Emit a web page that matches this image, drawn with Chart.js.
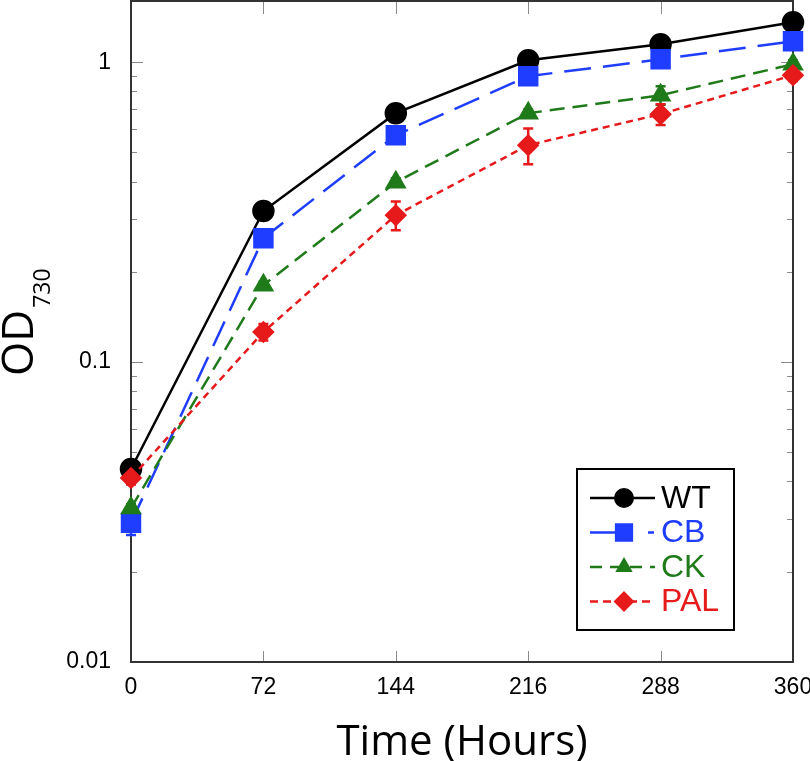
<!DOCTYPE html>
<html>
<head>
<meta charset="utf-8">
<script src="https://cdn.jsdelivr.net/npm/chart.js@4/dist/chart.umd.min.js"></script>
<style>
  body { margin: 0; background: #fff; }
  #wrap { width: 810px; height: 761px; }
</style>
</head>
<body>
<div id="wrap"><canvas id="myChart" width="810" height="761"></canvas></div>
<script>
  // time points (hours) and OD730 readings
  var times = [0, 72, 144, 216, 288, 360];
  var wtOD = [0.044, 0.319, 0.676, 1.015, 1.148, 1.359];
  var cbOD = [0.0291, 0.259, 0.571, 0.898, 1.023, 1.175];
  var ckOD = [0.0326, 0.1805, 0.398, 0.676, 0.776, 0.985];
  var palOD = [0.0411, 0.126, 0.309, 0.529, 0.671, 0.905];

  // +/- error for each point (most are hidden under markers)
  var wtErr = [0, 0, 0, 0, 0, 0];
  var cbErr = [0.0026, 0.008, 0.015, 0.02, 0.03, 0.03];
  var ckErr = [0.001, 0.005, 0.012, 0.02, 0.055, 0.03];
  var palErr = [0.002, 0.008, 0.034, 0.072, 0.053, 0.04];

  var yLabels = ["0.01", "0.1", "1"];
  var seriesNames = ["WT", "CB", "CK", "PAL"];

  var toXY = function(vals) {
    return vals.map(function(v, i) { return { x: times[i], y: v }; });
  };

  var tickFont = { family: "'Liberation Sans', Arial, sans-serif", size: 23 };

  // box around the plot plus inward ticks on all four sides
  var framePlugin = {
    id: 'frame',
    beforeDatasetsDraw: function(chart) {
      var ctx = chart.ctx, a = chart.chartArea;
      var xs = chart.scales.x, ys = chart.scales.y;
      ctx.save();
      ctx.strokeStyle = '#8a8a8a';
      ctx.lineWidth = 1;
      ctx.beginPath();
      for (var i = 1; i < times.length - 1; i++) {
        var px = Math.round(xs.getPixelForValue(times[i])) + 0.5;
        ctx.moveTo(px, a.bottom); ctx.lineTo(px, a.bottom - 11);
        ctx.moveTo(px, a.top); ctx.lineTo(px, a.top + 13);
      }
      for (var d = 0.01; d < 2; d *= 10) {
        for (var m = 1; m <= 9; m++) {
          var v = d * m;
          if (v > ys.max) break;
          var py = Math.round(ys.getPixelForValue(v)) + 0.5;
          var len = m === 1 ? 12 : 6;
          ctx.moveTo(a.left, py); ctx.lineTo(a.left + len, py);
          ctx.moveTo(a.right, py); ctx.lineTo(a.right - len, py);
        }
      }
      ctx.stroke();
      ctx.strokeStyle = '#333';
      ctx.lineWidth = 2;
      ctx.strokeRect(a.left, a.top, a.right - a.left, a.bottom - a.top);
      ctx.restore();
    }
  };

  // vertical error bars with caps, drawn under the markers
  var errorPlugin = {
    id: 'errbars',
    beforeDatasetsDraw: function(chart) {
      var ctx = chart.ctx, ys = chart.scales.y;
      chart.data.datasets.forEach(function(ds, di) {
        var meta = chart.getDatasetMeta(di);
        ctx.save();
        ctx.strokeStyle = ds.borderColor;
        ctx.lineWidth = 2.5;
        ds.errors.forEach(function(e, j) {
          if (!e) return;
          var pt = meta.data[j];
          var top = ys.getPixelForValue(ds.data[j].y + e);
          var bot = ys.getPixelForValue(ds.data[j].y - e);
          ctx.beginPath();
          ctx.moveTo(pt.x, top); ctx.lineTo(pt.x, bot);
          ctx.moveTo(pt.x - 5, top); ctx.lineTo(pt.x + 5, top);
          ctx.moveTo(pt.x - 5, bot); ctx.lineTo(pt.x + 5, bot);
          ctx.stroke();
        });
        ctx.restore();
      });
    }
  };

  // y title with subscript
  var yTitlePlugin = {
    id: 'ytitle',
    afterDraw: function(chart) {
      var ctx = chart.ctx;
      ctx.save();
      ctx.translate(33, 376);
      ctx.rotate(-Math.PI / 2);
      ctx.fillStyle = '#000';
      ctx.textBaseline = 'alphabetic';
      ctx.font = "44px 'Open Sans', sans-serif";
      ctx.fillText('OD', 0, 0);
      var w = ctx.measureText('OD').width;
      ctx.font = "23px 'Open Sans', sans-serif";
      ctx.fillText('730', w + 2, 17);
      ctx.restore();
    }
  };

  // boxed legend inside the lower right of the plot
  var legendPlugin = {
    id: 'boxLegend',
    afterDatasetsDraw: function(chart) {
      var ctx = chart.ctx, a = chart.chartArea;
      var bx = a.right - 216, by = a.bottom - 193, bw = 157, bh = 161;
      ctx.save();
      ctx.fillStyle = '#fff';
      ctx.fillRect(bx, by, bw, bh);
      ctx.strokeStyle = '#000';
      ctx.lineWidth = 2;
      ctx.strokeRect(bx, by, bw, bh);
      chart.data.datasets.forEach(function(ds, i) {
        var cy = by + 29 + i * 34.5;
        ctx.save();
        ctx.strokeStyle = ds.borderColor;
        ctx.lineWidth = ds.borderWidth;
        ctx.setLineDash(ds.legendDash);
        ctx.beginPath();
        ctx.moveTo(bx + 13, cy); ctx.lineTo(bx + 78, cy);
        ctx.stroke();
        ctx.restore();
        ctx.fillStyle = ds.pointBackgroundColor;
        ctx.strokeStyle = ds.pointBorderColor;
        Chart.helpers.drawPoint(ctx, {
          pointStyle: ds.pointStyle, radius: ds.legendRadius, rotation: 0, borderWidth: 1
        }, bx + 47, cy);
        ctx.fillStyle = ds.borderColor;
        ctx.font = "32px 'Liberation Sans', Arial, sans-serif";
        ctx.textBaseline = 'middle';
        ctx.fillText(seriesNames[i], bx + 84, cy + 1);
      });
      ctx.restore();
    }
  };

  var makeSet = function(i, vals, errs, color, dash, legendDash, style, radius, legendRadius, order) {
    return {
      label: seriesNames[i],
      data: toXY(vals),
      errors: errs,
      borderColor: color,
      backgroundColor: color,
      pointBackgroundColor: color,
      pointBorderColor: color,
      borderWidth: 2.5,
      borderDash: dash,
      legendDash: legendDash,
      pointStyle: style,
      pointRadius: radius,
      pointHoverRadius: radius,
      legendRadius: legendRadius,
      tension: 0,
      clip: false,
      order: order
    };
  };

  var data = {
    datasets: [
      makeSet(0, wtOD, wtErr, '#000000', [], [], 'circle', 10, 9, 4),
      makeSet(1, cbOD, cbErr, '#1f3dff', [27, 12], [30, 28, 6, 20], 'rect', 12.7, 11.5, 3),
      makeSet(2, ckOD, ckErr, '#1f7a1a', [15, 8], [12, 8], 'triangle', 10, 8, 2),
      makeSet(3, palOD, palErr, '#e6191b', [7, 5], [8, 5], 'rectRot', 9.5, 9, 1)
    ]
  };

  var option = {
    responsive: false,
    animation: false,
    events: [],
    layout: { autoPadding: false, padding: { top: 1, right: 17, left: 0, bottom: 0 } },
    plugins: { legend: { display: false }, tooltip: { enabled: false } },
    scales: {
      x: {
        type: 'linear',
        min: 0,
        max: 360,
        border: { display: false },
        grid: { display: false, drawTicks: false },
        ticks: { stepSize: 72, color: '#000', font: tickFont, padding: 12, maxRotation: 0 },
        title: {
          display: true,
          text: 'Time (Hours)',
          color: '#000',
          font: { family: "'Open Sans', sans-serif", size: 42 },
          padding: { top: 0, bottom: -7 }
        },
        afterFit: function(scale) {
          scale.height = 99;
          scale.paddingLeft = 0;
          scale.paddingRight = 0;
        }
      },
      y: {
        type: 'logarithmic',
        min: 0.01,
        max: 1.6,
        border: { display: false },
        grid: { display: false, drawTicks: false },
        ticks: {
          color: '#000',
          font: tickFont,
          padding: 20,
          autoSkip: false,
          callback: function(v) {
            var l = Math.log10(v);
            if (Math.abs(l - Math.round(l)) > 1e-9) return '';
            return yLabels[Math.round(l) + 2];
          }
        },
        afterFit: function(scale) {
          scale.width = 131;
          scale.paddingTop = 0;
          scale.paddingBottom = 0;
        }
      }
    }
  };

  var ctx = document.getElementById('myChart').getContext('2d');
  var myLineChart = new Chart(ctx, {
    type: 'line',
    data: data,
    options: option,
    plugins: [framePlugin, errorPlugin, legendPlugin, yTitlePlugin]
  });
</script>
</body>
</html>
